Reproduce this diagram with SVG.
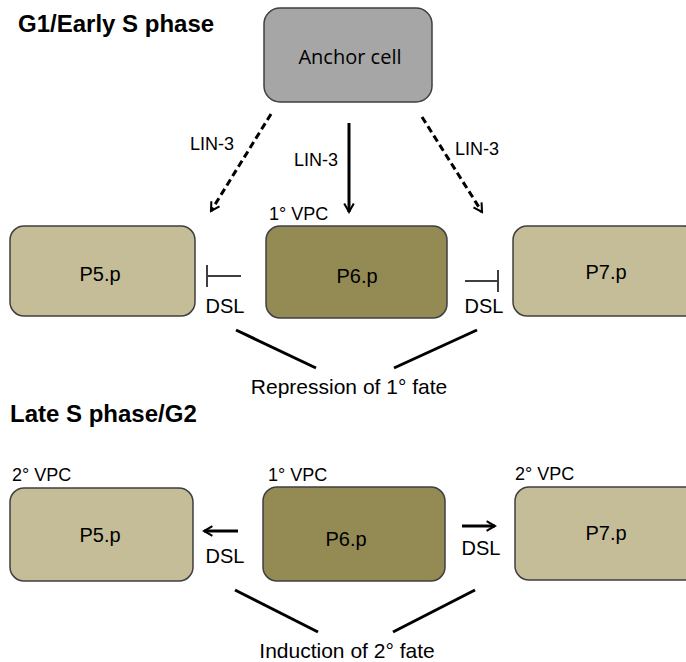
<svg xmlns="http://www.w3.org/2000/svg" width="686" height="662" viewBox="0 0 686 662">
<style>
.t{font-family:"Liberation Sans",Arial,sans-serif;font-size:20px;fill:#000}
.s{font-size:18px}
.m{font-size:21px}
.h{font-family:"Liberation Sans",Arial,sans-serif;font-size:24px;font-weight:bold;fill:#000}
.c{text-anchor:middle}
.box{stroke:#3f3f3f;stroke-width:1.5}
.tan{fill:#c4bd97}
.olive{fill:#948a54}
.ln{stroke:#000;stroke-width:3;fill:none}
.inh{stroke:#3f3f3f;stroke-width:2;fill:none}
</style>
<defs>
<marker id="ah" viewBox="0 0 10 10" refX="8.5" refY="5" markerWidth="4" markerHeight="4" orient="auto" markerUnits="strokeWidth">
<path d="M1.5,1 L8.5,5 L1.5,9" fill="none" stroke="#000" stroke-width="1.7"/>
</marker>
</defs>
<rect width="686" height="662" fill="#fff"/>
<text class="h" x="18" y="32">G1/Early S phase</text>
<text class="h" x="10" y="422">Late S phase/G2</text>

<g id="anchor">
<rect class="box" x="264" y="8" width="168" height="94" rx="16" fill="#a6a6a6"/>
<text class="c" x="350" y="64" style="font-family:'Open Sans','Liberation Sans',sans-serif;font-size:20px">Anchor cell</text>
</g>

<g id="p5-top">
<rect class="box tan" x="10" y="226" width="185" height="90" rx="14"/>
<text class="t c" x="100" y="281">P5.p</text>
</g>
<g id="p6-top">
<text class="t s" x="269" y="220">1° VPC</text>
<rect class="box olive" x="266" y="226" width="181" height="92" rx="14"/>
<text class="t c" x="357" y="283">P6.p</text>
</g>
<g id="p7-top">
<rect class="box tan" x="513" y="226" width="185" height="90" rx="14"/>
<text class="t c" x="606" y="279">P7.p</text>
</g>

<g id="p5-bot">
<text class="t s" x="12" y="481">2° VPC</text>
<rect class="box tan" x="10" y="488" width="183" height="93" rx="14"/>
<text class="t c" x="100" y="542">P5.p</text>
</g>
<g id="p6-bot">
<text class="t s" x="268" y="481">1° VPC</text>
<rect class="box olive" x="263" y="487" width="182" height="94" rx="14"/>
<text class="t c" x="346" y="546">P6.p</text>
</g>
<g id="p7-bot">
<text class="t s" x="515" y="480">2° VPC</text>
<rect class="box tan" x="515" y="487" width="185" height="93" rx="14"/>
<text class="t c" x="606" y="540">P7.p</text>
</g>

<g id="connectors">
<line class="ln" x1="271" y1="114" x2="211" y2="211" stroke-dasharray="7,4" marker-end="url(#ah)"/>
<text class="t s c" x="212" y="150">LIN-3</text>
<line class="ln" x1="349" y1="123" x2="349" y2="212" marker-end="url(#ah)"/>
<text class="t s c" x="316" y="166">LIN-3</text>
<line class="ln" x1="422" y1="117" x2="482" y2="212" stroke-dasharray="7,4" marker-end="url(#ah)"/>
<text class="t s c" x="477" y="155">LIN-3</text>

<path class="inh" d="M241,276 H207 M207,265 V287"/>
<text class="t c" x="225" y="313">DSL</text>
<path class="inh" d="M465,281 H498 M498,270 V292"/>
<text class="t c" x="484" y="313">DSL</text>
<line class="ln" x1="236" y1="330" x2="316" y2="368"/>
<line class="ln" x1="477" y1="330" x2="394" y2="368"/>
<text class="t m c" x="349" y="394">Repression of 1° fate</text>

<line class="ln" x1="238" y1="531" x2="204" y2="531" marker-end="url(#ah)"/>
<text class="t c" x="225" y="563">DSL</text>
<line class="ln" x1="462" y1="526" x2="495" y2="526" marker-end="url(#ah)"/>
<text class="t c" x="481" y="555">DSL</text>
<line class="ln" x1="235" y1="590" x2="318" y2="632"/>
<line class="ln" x1="475" y1="590" x2="393" y2="632"/>
<text class="t m c" x="347" y="658">Induction of 2° fate</text>
</g>
</svg>
